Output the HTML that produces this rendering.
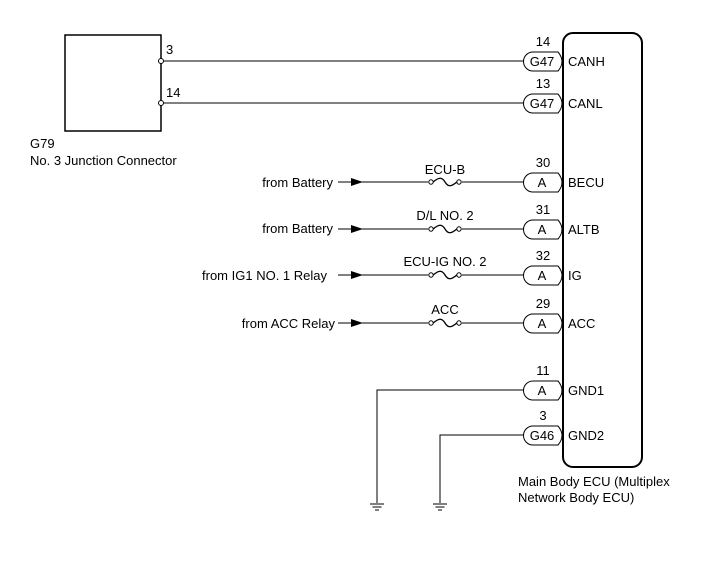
<!DOCTYPE html>
<html><head><style>body{margin:0;background:#fff}svg{display:block}text{font-family:"Liberation Sans",Arial,sans-serif;font-size:13px;fill:#000}</style></head>
<body>
<svg width="713" height="581" viewBox="0 0 713 581" xmlns="http://www.w3.org/2000/svg">
<defs>
<g id="fuse"><circle cx="-14" cy="0" r="2.2" fill="#fff" stroke="#000" stroke-width="1"/><circle cx="14" cy="0" r="2.2" fill="#fff" stroke="#000" stroke-width="1"/><path d="M-11.8 0 C-6 -5 -3 -5 0 0 C3 5 6 5 11.8 0" fill="none" stroke="#000" stroke-width="1.3"/></g>
<g id="conn"><path d="M558 -9 L533 -9 A9.5 9.5 0 0 0 533 10 L558 10 Q566 0.5 558 -9 Z" fill="#fff" stroke="#000" stroke-width="1"/></g>
<g id="gnd"><line x1="-7" y1="0" x2="7" y2="0" stroke="#000"/><line x1="-4.5" y1="3" x2="4.5" y2="3" stroke="#000"/><line x1="-2" y1="6" x2="2" y2="6" stroke="#000"/></g>
</defs>
<g stroke="#000" fill="none">
<rect x="65" y="35" width="96" height="96" stroke-width="1.5"/>
<rect x="563" y="33" width="79" height="434" rx="10" stroke-width="2"/>
<line x1="163" y1="61" x2="524" y2="61" stroke-width="1"/>
<line x1="163" y1="103" x2="524" y2="103" stroke-width="1"/>
<line x1="338" y1="182" x2="524" y2="182"/>
<line x1="338" y1="229" x2="524" y2="229"/>
<line x1="338" y1="275" x2="524" y2="275"/>
<line x1="338" y1="323" x2="524" y2="323"/>
<polyline points="524,390 377,390 377,503"/>
<polyline points="524,435 440,435 440,503"/>
</g>
<circle cx="161" cy="61" r="2.5" fill="#fff" stroke="#000"/>
<circle cx="161" cy="103" r="2.5" fill="#fff" stroke="#000"/>
<g fill="#000">
<polygon points="351,178 363,182 351,186"/>
<polygon points="351,225 363,229 351,233"/>
<polygon points="351,271 363,275 351,279"/>
<polygon points="351,319 363,323 351,327"/>
</g>
<g fill="#fff"><rect x="428" y="176" width="34" height="12"/><rect x="428" y="223" width="34" height="12"/><rect x="428" y="269" width="34" height="12"/><rect x="428" y="317" width="34" height="12"/></g>
<use href="#fuse" x="445" y="182"/><use href="#fuse" x="445" y="229"/><use href="#fuse" x="445" y="275"/><use href="#fuse" x="445" y="323"/>
<use href="#conn" y="61"/><use href="#conn" y="103"/><use href="#conn" y="182"/><use href="#conn" y="229"/><use href="#conn" y="275"/><use href="#conn" y="323"/><use href="#conn" y="390"/><use href="#conn" y="435"/>
<use href="#gnd" x="377" y="504"/><use href="#gnd" x="440" y="504"/>
<text x="166" y="54">3</text><text x="166" y="97">14</text>
<text x="30" y="148">G79</text><text x="30" y="165">No. 3 Junction Connector</text>
<g text-anchor="middle">
<text x="543" y="46">14</text><text x="542" y="66">G47</text>
<text x="543" y="88">13</text><text x="542" y="108">G47</text>
<text x="543" y="167">30</text><text x="542" y="187">A</text>
<text x="543" y="214">31</text><text x="542" y="234">A</text>
<text x="543" y="260">32</text><text x="542" y="280">A</text>
<text x="543" y="308">29</text><text x="542" y="328">A</text>
<text x="543" y="375">11</text><text x="542" y="395">A</text>
<text x="543" y="420">3</text><text x="542" y="440">G46</text>
<text x="445" y="174">ECU-B</text><text x="445" y="220">D/L NO. 2</text><text x="445" y="266">ECU-IG NO. 2</text><text x="445" y="314">ACC</text>
</g>
<g text-anchor="end">
<text x="333" y="187">from Battery</text><text x="333" y="233">from Battery</text><text x="327" y="280">from IG1 NO. 1 Relay</text><text x="335" y="328">from ACC Relay</text>
</g>
<g><text x="568" y="66">CANH</text><text x="568" y="108">CANL</text><text x="568" y="187">BECU</text><text x="568" y="234">ALTB</text><text x="568" y="280">IG</text><text x="568" y="328">ACC</text><text x="568" y="395">GND1</text><text x="568" y="440">GND2</text></g>
<text x="518" y="486">Main Body ECU (Multiplex</text><text x="518" y="502">Network Body ECU)</text>
</svg>
</body></html>
